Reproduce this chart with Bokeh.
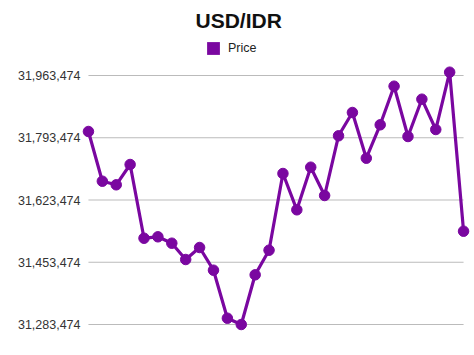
from bokeh.plotting import figure
from bokeh.models import (Range1d, FixedTicker, NumeralTickFormatter, Legend, LegendItem,
                          ColumnDataSource, Title)
from bokeh.embed import file_html
from bokeh.resources import INLINE

title_text = "USD/IDR"
series_name = "Price"
tick_values = [31283474, 31453474, 31623474, 31793474, 31963474]
prices = [31810538, 31674807, 31664976, 31720415, 31519140, 31522964, 31505485,
          31460970, 31493742, 31431748, 31300660, 31283455, 31419186, 31486368,
          31695836, 31596701, 31713041, 31635754, 31798795, 31862427, 31737620,
          31828836, 31934252, 31796883, 31898749, 31816000, 31972486, 31538257]
idx = list(range(len(prices)))

color = "#7a07a0"
font = "Liberation Sans"

src = ColumnDataSource(dict(x=idx, y=prices))

p = figure(width=474, height=355, output_backend="svg", toolbar_location=None,
           x_range=Range1d(idx[0] - 0.5, idx[-1] + 0.5), y_range=Range1d(31226123, 32069983),
           min_border_left=81, min_border_right=4, min_border_bottom=10, min_border_top=36)
p.title = Title(text=title_text, align="left", offset=114, text_font_size="21px",
                text_font=font, text_font_style="bold", text_color="#111111")
p.outline_line_color = None
p.background_fill_color = "white"
p.border_fill_color = "white"

p.xaxis.visible = False
p.xgrid.visible = False
p.ygrid.visible = False

p.yaxis.ticker = FixedTicker(ticks=tick_values)
p.yaxis.formatter = NumeralTickFormatter(format="0,0")
p.yaxis.axis_line_color = None
p.yaxis.major_tick_line_color = None
p.yaxis.minor_tick_line_color = None
p.yaxis.major_tick_out = 0
p.yaxis.major_tick_in = 0
p.yaxis.major_label_standoff = 1
p.yaxis.major_label_text_font = font
p.yaxis.major_label_text_font_size = "12.5px"
p.yaxis.major_label_text_color = "#333333"

# horizontal grid lines spanning only the data range
p.segment(x0=[idx[0]] * len(tick_values), x1=[idx[-1]] * len(tick_values),
          y0=tick_values, y1=tick_values, line_color="#bbbbbb", line_width=1.2)

# zero-area proxy (hidden under the first marker) used only for the legend swatch
swatch = p.quad(left=[idx[0]], right=[idx[0]], top=[prices[0]], bottom=[prices[0]],
                fill_color=color, line_color=None)

p.line("x", "y", source=src, line_color=color, line_width=3.2)
p.scatter("x", "y", source=src, size=10.5, fill_color=color, line_color=color)

legend = Legend(items=[LegendItem(label=series_name, renderers=[swatch])],
                orientation="horizontal", location=(124, 289),
                label_text_font=font, label_text_font_size="12.5px", label_text_color="#222222",
                glyph_width=16, glyph_height=16, border_line_color=None,
                background_fill_alpha=0, padding=0, margin=0, spacing=0,
                label_standoff=7, label_height=16)
p.add_layout(legend, "center")

open("out.html", "w").write(file_html(p, INLINE))
